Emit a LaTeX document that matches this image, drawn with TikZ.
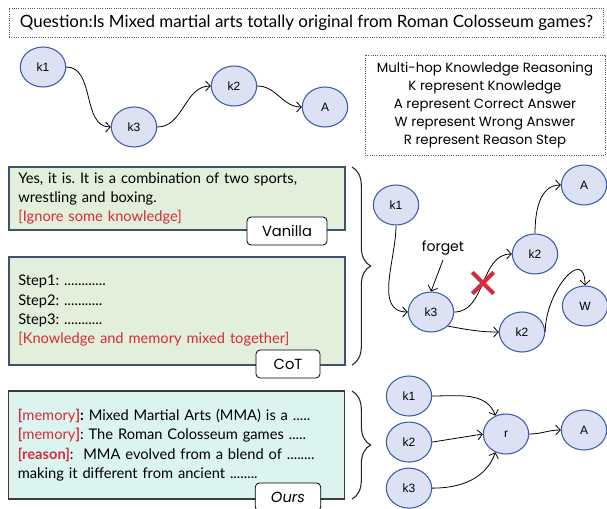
\documentclass[tikz,border=0pt]{standalone}
\usepackage{fontspec}
\setmainfont{Lato}
\newfontfamily\comicf{Poppins}
\newfontfamily\arialf{Liberation Sans}
\frenchspacing
\usetikzlibrary{positioning}
\usetikzlibrary{arrows.meta}
\usetikzlibrary{shapes.geometric,shapes.misc}
\usetikzlibrary{decorations.pathreplacing}
\definecolor{knF}{RGB}{220,226,243}
\definecolor{knC}{RGB}{62,92,172}
\definecolor{vanF}{RGB}{226,239,218}
\definecolor{vanC}{RGB}{66,80,104}
\definecolor{ourF}{RGB}{219,244,240}
\definecolor{ourC}{RGB}{60,60,60}
\definecolor{errC}{RGB}{212,44,60}
\tikzstyle{kn}=[draw=knC, fill=knF, shape=ellipse, line width=0.8pt, minimum width=34pt, minimum height=30pt, inner sep=0pt, font=\arialf\small]
\tikzstyle{tbx}=[draw=vanC, fill=vanF, shape=rectangle, line width=0.8pt, minimum width=252pt, text width=238pt, align=left, inner xsep=7pt, font=\fontsize{11}{14.5}\selectfont]
\tikzstyle{tag}=[draw, fill=white, rounded corners=3pt, line width=0.6pt, minimum height=21pt, inner sep=0pt, font=\comicf\fontsize{11}{13}\selectfont]
\tikzstyle{lgd}=[draw=gray!70!black, densely dotted, line width=0.7pt, shape=rectangle, align=center]
\tikzstyle{brc}=[decorate, decoration={brace, amplitude=14pt}, thick, color=gray!30!black]
\tikzstyle{karrow}=[semithick, -{Straight Barb[length=3.5pt,width=7.5pt]}, color=black]
\def\kn{\node[style=kn]}
\def\tbx{\node[style=tbx]}
\def\tg{\node[style=tag]}
\def\karrow{\draw[style=karrow]}

\begin{document}
\begin{tikzpicture}[x=0.75pt, y=0.75pt]
      \useasboundingbox (0,0) rectangle (607,-508);
      % next
      \node[style=lgd, minimum width=446pt, minimum height=21.75pt, font=\fontsize{12.7}{14}\selectfont] (quest) at (306.5,-22.5)
            {Question:Is Mixed martial arts totally original from Roman Colosseum games?};
      \node[style=lgd, minimum width=180pt, minimum height=75pt, font=\comicf\fontsize{10}{13.5}\selectfont] (legend) at (485,-105)
            {Multi-hop Knowledge Reasoning\\K represent Knowledge\\A represent Correct Answer\\W represent Wrong Answer\\R represent Reason Step};

      \kn (Tk1) at (43,-67)   {k1};
      \kn (Tk3) at (134,-127) {k3};
      \kn (Tk2) at (234,-86)  {k2};
      \kn (TA)  at (325,-107) {A};

      \karrow (Tk1.east) to [out=0,in=180] (Tk3.west);
      \karrow (Tk3.east) to [out=0,in=180] (Tk2.west);
      \karrow (Tk2.east) to [out=0,in=180] (TA.west);
      % next
      \tbx[minimum height=47.25pt] (vbox) at (177,-198.5)
            {Yes, it is. It is a combination of two sports,\\wrestling and boxing.\\\textcolor{errC}{[Ignore some knowledge]}};
      \tg[minimum width=60pt] (vtag) at (287,-231) {Vanilla};

      \tbx[minimum height=81pt] (cbox) at (177,-311)
            {Step1: ............\\Step2: ...........\\Step3: ...........\\\textcolor{errC}{[Knowledge and memory mixed together]}};
      \tg[minimum width=48pt] (ctag) at (288,-364) {CoT};

      \draw[style=brc] (352,-167) -- (352,-365);

      \kn (Mk1)  at (396,-205) {k1};
      \kn (Mk3)  at (431,-312) {k3};
      \kn (Mk2a) at (535,-254) {k2};
      \kn (MA)   at (584,-185) {A};
      \kn (Mk2b) at (522,-332) {k2};
      \kn (MW)   at (585,-306) {W};
      \node[font=\comicf\fontsize{10.5}{12}\selectfont] (forget) at (443,-248) {forget};

      \karrow (Mk1.south) to [out=-90,in=180] (Mk3.west);
      \karrow (forget.south) -- (Mk3.north);
      \karrow (Mk3.east) to [out=0,in=180] (Mk2a.west);
      \karrow (Mk3.-40) to [out=-10,in=180] (Mk2b.west);
      \karrow (Mk2a.north) to [out=90,in=180] (MA.west);
      \karrow (Mk2b.east) to [out=90,in=90,looseness=1.7] (MW.north);
      \node[cross out, draw=errC, line width=3pt, minimum size=13pt, inner sep=0pt] (xmark) at (483,-283) {};
      % next
      \tbx[draw=ourC, fill=ourF, minimum height=81pt] (obox) at (176.5,-445)
            {\textcolor{errC}{\textbf{[}memory\textbf{]}}\textbf{:} Mixed Martial Arts (MMA) is a .....\\
             \textcolor{errC}{\textbf{[}memory\textbf{]}}: The Roman Colosseum games .....\\
             \textcolor{errC}{\textbf{[reason]}}:\ \ MMA evolved from a blend of ........\\
             making it different from ancient ........};
      \tg[minimum width=49pt] (otag) at (288,-497) {\itshape Ours};

      \draw[style=brc] (352,-391) -- (352,-499);

      \kn (Bk1) at (409,-396)         {k1};
      \kn (Bk2) [below=3.75pt of Bk1] {k2};
      \kn (Bk3) [below=3.75pt of Bk2] {k3};
      \kn (Br)  at (506,-434)         {r};
      \kn (BA)  at (584,-430)         {A};

      \karrow (Bk1.east) to [out=0,in=110] (Br.120);
      \karrow (Bk2.east) -- (Br.west);
      \karrow (Bk3.east) to [out=0,in=-110] (Br.-120);
      \karrow (Br.east) to [out=0,in=180] (BA.west);

\end{tikzpicture}
\end{document}
